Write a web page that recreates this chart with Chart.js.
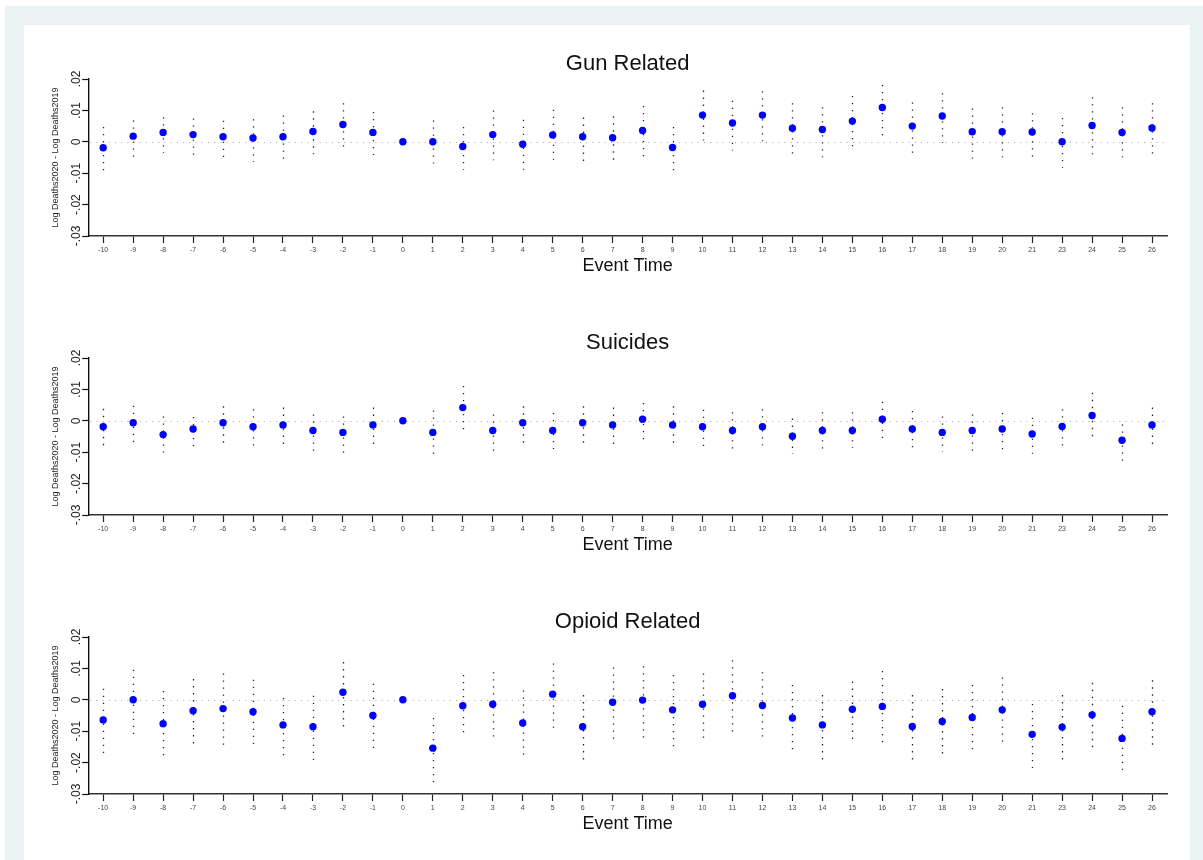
<!DOCTYPE html>
<html>
<head>
<meta charset="utf-8">
<script src="https://cdn.jsdelivr.net/npm/chart.js@4.4.0/dist/chart.umd.min.js"></script>
<style>
  html, body { margin: 0; padding: 0; background: #ffffff; overflow: hidden; }
  #band { position: absolute; left: 5px; top: 6px; width: 1250px; height: 900px; background: #eaf2f3; }
  #inner { position: absolute; left: 24px; top: 25px; width: 1166px; height: 900px; background: #ffffff; }
  canvas { position: absolute; left: 24px; }
</style>
</head>
<body>
<div id="band"></div>
<div id="inner"></div>
<canvas id="c0" width="1166" height="260"></canvas>
<canvas id="c1" width="1166" height="260"></canvas>
<canvas id="c2" width="1166" height="260"></canvas>
<script>
// ---------- data ----------
const categories = ["-10","-9","-8","-7","-6","-5","-4","-3","-2","-1","0","1","2","3","4","5","6","7","8","9","10","11","12","13","14","15","16","17","18","19","20","21","23","24","25","26"];

const yTickValues = [-0.03, -0.02, -0.01, 0, 0.01, 0.02];
const yTickLabels = ["-.03", "-.02", "-.01", "0", ".01", ".02"];

const panelTitles = ["Gun Related", "Suicides", "Opioid Related"];
const xAxisTitle = "Event Time";
const yAxisTitle = "Log Deaths2020 - Log Deaths2019";

const gunValues = [-0.0019,0.0018,0.0030,0.0023,0.0016,0.0012,0.0016,0.0033,0.0055,0.0030,0,0.0000,-0.0015,0.0023,-0.0008,0.0022,0.0016,0.0013,0.0036,-0.0018,0.0085,0.0060,0.0085,0.0043,0.0039,0.0066,0.0109,0.0050,0.0082,0.0032,0.0032,0.0031,0.0000,0.0052,0.0030,0.0044];
const gunHigh = [0.0047,0.0068,0.0078,0.0074,0.0067,0.0072,0.0084,0.0097,0.0123,0.0095,null,0.0068,0.0047,0.0100,0.0070,0.0102,0.0077,0.0081,0.0114,0.0047,0.0163,0.0131,0.0161,0.0123,0.0110,0.0146,0.0181,0.0125,0.0155,0.0106,0.0110,0.0091,0.0076,0.0142,0.0110,0.0123];
const gunLow = [-0.0091,-0.0049,-0.0036,-0.0042,-0.0051,-0.0064,-0.0055,-0.0040,-0.0015,-0.0042,null,-0.0069,-0.0089,-0.0059,-0.0089,-0.0057,-0.0061,-0.0057,-0.0047,-0.0091,0.0004,-0.0028,0.0002,-0.0038,-0.0049,-0.0015,0.0020,-0.0036,-0.0004,-0.0053,-0.0049,-0.0047,-0.0083,-0.0040,-0.0049,-0.0038];

const suicideValues = [-0.0019,-0.0006,-0.0044,-0.0026,-0.0006,-0.0019,-0.0013,-0.0031,-0.0037,-0.0013,0,-0.0037,0.0042,-0.0031,-0.0006,-0.0031,-0.0006,-0.0013,0.0005,-0.0013,-0.0019,-0.0031,-0.0019,-0.0049,-0.0031,-0.0031,0.0005,-0.0026,-0.0037,-0.0031,-0.0026,-0.0042,-0.0018,0.0017,-0.0062,-0.0013];
const suicideHigh = [0.0038,0.0048,0.0014,0.0012,0.0046,0.0037,0.0042,0.0020,0.0014,0.0042,null,0.0033,0.0111,0.0020,0.0046,0.0025,0.0046,0.0042,0.0057,0.0046,0.0035,0.0027,0.0037,0.0007,0.0027,0.0027,0.0061,0.0031,0.0014,0.0020,0.0025,0.0010,0.0037,0.0089,-0.0012,0.0042];
const suicideLow = [-0.0082,-0.0072,-0.0101,-0.0081,-0.0072,-0.0082,-0.0075,-0.0095,-0.0103,-0.0075,null,-0.0108,-0.0029,-0.0095,-0.0072,-0.0090,-0.0070,-0.0074,-0.0059,-0.0072,-0.0080,-0.0090,-0.0078,-0.0106,-0.0090,-0.0087,-0.0055,-0.0084,-0.0099,-0.0095,-0.0091,-0.0105,-0.0080,-0.0052,-0.0127,-0.0074];

const opioidValues = [-0.0064,0.0000,-0.0076,-0.0035,-0.0028,-0.0038,-0.0080,-0.0086,0.0024,-0.0050,0,-0.0154,-0.0019,-0.0014,-0.0074,0.0018,-0.0086,-0.0008,-0.0001,-0.0032,-0.0014,0.0013,-0.0018,-0.0058,-0.0080,-0.0030,-0.0021,-0.0085,-0.0069,-0.0056,-0.0032,-0.0110,-0.0087,-0.0048,-0.0123,-0.0038];
const opioidHigh = [0.0035,0.0096,0.0028,0.0066,0.0084,0.0064,0.0006,0.0013,0.0120,0.0051,null,-0.0058,0.0079,0.0088,0.0030,0.0116,0.0015,0.0103,0.0107,0.0079,0.0084,0.0126,0.0088,0.0047,0.0015,0.0058,0.0092,0.0015,0.0034,0.0047,0.0071,-0.0013,0.0015,0.0054,-0.0019,0.0062];
const opioidLow = [-0.0176,-0.0114,-0.0180,-0.0144,-0.0149,-0.0144,-0.0180,-0.0196,-0.0090,-0.0158,null,-0.0265,-0.0122,-0.0122,-0.0176,-0.0094,-0.0195,-0.0126,-0.0124,-0.0152,-0.0126,-0.0105,-0.0122,-0.0163,-0.0191,-0.0131,-0.0139,-0.0193,-0.0176,-0.0159,-0.0139,-0.0217,-0.0193,-0.0154,-0.0227,-0.0146];

// ---------- layout ----------
const FONT = "'Liberation Sans', Arial, Helvetica, sans-serif";
const panelPlotTops = [78.7, 358, 637.3];
const CANVAS_TOP_OFFSET = 50;   // plot top inside canvas
const PLOT_H = 157;

const panels = [
  { values: gunValues, low: gunLow, high: gunHigh },
  { values: suicideValues, low: suicideLow, high: suicideHigh },
  { values: opioidValues, low: opioidLow, high: opioidHigh }
];

function makeChart(idx) {
  const p = panels[idx];
  const canvas = document.getElementById('c' + idx);
  canvas.style.top = (panelPlotTops[idx] - CANVAS_TOP_OFFSET) + 'px';

  const decorPlugin = {
    id: 'decor' + idx,
    beforeDatasetsDraw(chart) {
      const ctx = chart.ctx;
      const xs = chart.scales.x, ys = chart.scales.y;
      const a = chart.chartArea;
      ctx.save();
      // zero reference line
      ctx.strokeStyle = '#a8a8a8';
      ctx.lineWidth = 1;
      ctx.setLineDash([1, 5.2]);
      const y0 = Math.round(ys.getPixelForValue(0)) + 0.5;
      ctx.beginPath();
      ctx.moveTo(a.left + 2, y0);
      ctx.lineTo(a.right, y0);
      ctx.stroke();
      // confidence intervals
      ctx.strokeStyle = '#222';
      ctx.lineWidth = 1.3;
      ctx.setLineDash([1.3, 5.7]);
      for (let i = 0; i < categories.length; i++) {
        if (p.high[i] === null || p.low[i] === null) continue;
        const x = Math.round(xs.getPixelForValue(i)) + 0.5;
        ctx.beginPath();
        ctx.moveTo(x, ys.getPixelForValue(p.high[i]));
        ctx.lineTo(x, ys.getPixelForValue(p.low[i]));
        ctx.stroke();
      }
      ctx.restore();
    },
    afterDraw(chart) {
      const ctx = chart.ctx;
      const ys = chart.scales.y;
      const a = chart.chartArea;
      const cx = (a.left + a.right) / 2;
      ctx.save();
      ctx.fillStyle = '#111';
      // title
      ctx.font = '22px ' + FONT;
      ctx.textAlign = 'center';
      ctx.textBaseline = 'alphabetic';
      ctx.fillText(panelTitles[idx], cx, a.top - 9.4);
      // x axis title
      ctx.font = '18px ' + FONT;
      ctx.fillText(xAxisTitle, cx, a.bottom + 35);
      // y tick labels, rotated
      ctx.font = '12px ' + FONT;
      ctx.fillStyle = '#222';
      for (let i = 0; i < yTickValues.length; i++) {
        const y = ys.getPixelForValue(yTickValues[i]);
        ctx.save();
        ctx.translate(a.left - 12, y);
        ctx.rotate(-Math.PI / 2);
        ctx.textAlign = 'center';
        ctx.textBaseline = 'middle';
        ctx.fillText(yTickLabels[i], 0, 0);
        ctx.restore();
      }
      // y axis title
      ctx.font = '9px ' + FONT;
      ctx.fillStyle = '#222';
      ctx.translate(a.left - 32.5, (a.top + a.bottom) / 2);
      ctx.rotate(-Math.PI / 2);
      ctx.textAlign = 'center';
      ctx.textBaseline = 'middle';
      ctx.fillText(yAxisTitle, 0, 0);
      ctx.restore();
    }
  };

  return new Chart(canvas, {
    type: 'line',
    data: {
      labels: categories,
      datasets: [{
        data: p.values,
        showLine: false,
        pointRadius: 3.7,
        pointHoverRadius: 3.7,
        pointBorderWidth: 0,
        pointBackgroundColor: '#0000ff',
        pointBorderColor: '#0000ff'
      }]
    },
    options: {
      responsive: false,
      animation: false,
      devicePixelRatio: 1,
      events: [],
      layout: { padding: { left: 24.2, right: 23, top: CANVAS_TOP_OFFSET, bottom: 260 - CANVAS_TOP_OFFSET - PLOT_H - 40 } },
      plugins: { legend: { display: false }, tooltip: { enabled: false }, title: { display: false } },
      scales: {
        x: {
          type: 'category',
          offset: true,
          grid: { display: true, drawOnChartArea: false, drawTicks: true, tickLength: 7, tickColor: '#222', tickWidth: 1.2, offset: false },
          border: { display: true, color: '#333', width: 1.4 },
          ticks: { font: { family: FONT, size: 7 }, color: '#444', padding: 3, autoSkip: false, maxRotation: 0, minRotation: 0 },
          afterFit(s) { s.height = 40; }
        },
        y: {
          min: -0.03,
          max: 0.02,
          afterBuildTicks(s) { s.ticks = yTickValues.map(v => ({ value: v })); },
          grid: { display: true, drawOnChartArea: false, drawTicks: true, tickLength: 6, tickColor: '#111', tickWidth: 1.2 },
          border: { display: true, color: '#111', width: 1.4 },
          ticks: { display: false },
          afterFit(s) { s.width = 40; }
        }
      }
    },
    plugins: [decorPlugin]
  });
}

makeChart(0);
makeChart(1);
makeChart(2);
</script>
</body>
</html>
